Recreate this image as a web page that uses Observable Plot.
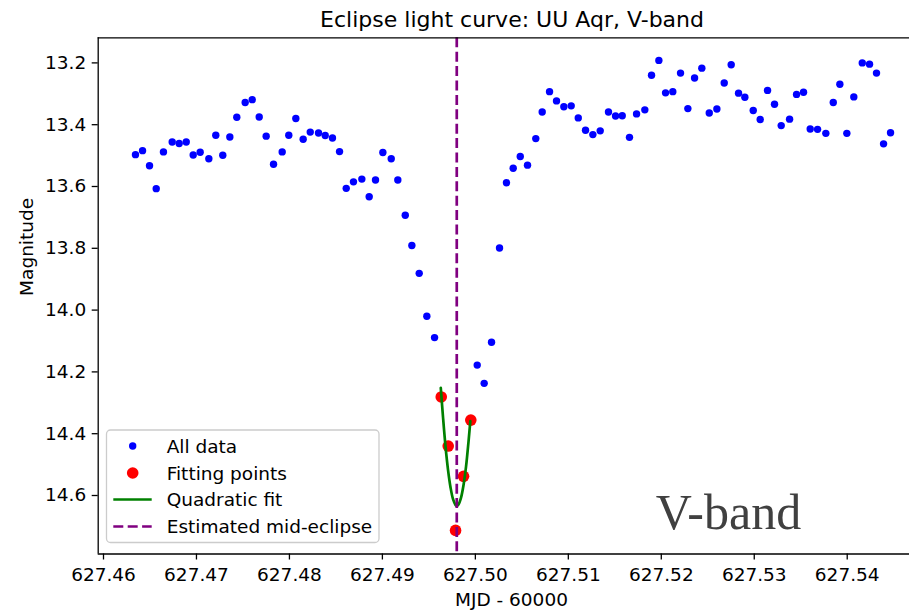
<!DOCTYPE html>
<html><head><meta charset="utf-8">
<script src="https://cdn.jsdelivr.net/npm/d3@7"></script>
<script src="https://cdn.jsdelivr.net/npm/@observablehq/plot@0.6"></script>
<style>
html,body{margin:0;padding:0;background:#fff;}
#chart{width:909px;height:610px;}
</style></head><body><div id="chart"></div>
<script>
// All data: MJD - 60000 and V magnitude
const mjd = [
  627.46344, 627.46420, 627.46495, 627.46567, 627.46645, 627.46739, 627.46814, 627.46890, 627.46965, 627.47040,
  627.47133, 627.47208, 627.47283, 627.47359, 627.47434, 627.47524, 627.47600, 627.47675, 627.47750, 627.47829,
  627.47922, 627.47993, 627.48069, 627.48148, 627.48224, 627.48313, 627.48385, 627.48463, 627.48539, 627.48611,
  627.48689, 627.48779, 627.48858, 627.48926, 627.49005, 627.49095, 627.49166, 627.49246, 627.49317, 627.49396,
  627.49478, 627.49561, 627.49633, 627.49708, 627.49787, 627.49873, 627.49951, 627.50020, 627.50095, 627.50174,
  627.50260, 627.50335, 627.50407, 627.50483, 627.50561, 627.50650, 627.50719, 627.50798, 627.50873, 627.50952,
  627.51031, 627.51107, 627.51185, 627.51264, 627.51343, 627.51432, 627.51508, 627.51580, 627.51658, 627.51734,
  627.51823, 627.51895, 627.51974, 627.52046, 627.52124, 627.52207, 627.52286, 627.52358, 627.52436, 627.52516,
  627.52598, 627.52677, 627.52752, 627.52831, 627.52899, 627.52989, 627.53064, 627.53143, 627.53218, 627.53290,
  627.53380, 627.53455, 627.53530, 627.53602, 627.53681, 627.53770, 627.53850, 627.53921, 627.53996, 627.54071,
  627.54162, 627.54240, 627.54315, 627.54391, 627.54466
];
const mag = [
  13.497, 13.484, 13.533, 13.607, 13.488, 13.456, 13.461, 13.456, 13.498, 13.489,
  13.510, 13.434, 13.499, 13.440, 13.376, 13.328, 13.319, 13.375, 13.437, 13.528,
  13.488, 13.434, 13.380, 13.447, 13.424, 13.427, 13.435, 13.443, 13.487, 13.606,
  13.585, 13.576, 13.633, 13.579, 13.490, 13.510, 13.579, 13.693, 13.791, 13.881,
  14.020, 14.089, 14.281, 14.440, 14.713, 14.538, 14.356, 14.178, 14.237, 14.104,
  13.799, 13.588, 13.541, 13.503, 13.531, 13.445, 13.359, 13.293, 13.323, 13.342,
  13.339, 13.378, 13.418, 13.432, 13.420, 13.359, 13.372, 13.371, 13.441, 13.365,
  13.352, 13.240, 13.192, 13.297, 13.293, 13.233, 13.348, 13.249, 13.217, 13.362,
  13.349, 13.265, 13.206, 13.298, 13.311, 13.354, 13.383, 13.289, 13.334, 13.403,
  13.382, 13.302, 13.295, 13.414, 13.415, 13.428, 13.328, 13.269, 13.428, 13.310,
  13.200, 13.204, 13.233, 13.462, 13.426
];
// Fitting points
const fitMjd = [627.49633, 627.49708, 627.49787, 627.49873, 627.49951];
const fitMag = [14.281, 14.440, 14.713, 14.538, 14.356];
// Quadratic fit curve
const curveMjd = [627.49628, 627.49652, 627.49679, 627.49706, 627.49733, 627.49760, 627.49787,
                  627.49801, 627.49819, 627.49846, 627.49873, 627.49900, 627.49926, 627.49946];
const curveMag = [14.252, 14.346, 14.441, 14.517, 14.574, 14.612, 14.631,
                  14.634, 14.629, 14.607, 14.566, 14.506, 14.427, 14.359];
const midEclipse = 627.4980;
const xTicks = [627.46, 627.47, 627.48, 627.49, 627.50, 627.51, 627.52, 627.53, 627.54];
const yTicks = [13.2, 13.4, 13.6, 13.8, 14.0, 14.2, 14.4, 14.6];
const xDomain = [627.45943, 627.54670];
const yDomain = [13.1188, 14.7893];
const titleText = "Eclipse light curve: UU Aqr, V-band";
const xLabel = "MJD - 60000";
const yLabel = "Magnitude";
const bandLabel = "V-band";
const legendLabels = ["All data", "Fitting points", "Quadratic fit", "Estimated mid-eclipse"];

const allData = mjd.map((x, i) => ({x, y: mag[i]}));
const fitData = fitMjd.map((x, i) => ({x, y: fitMag[i]}));
const curveData = curveMjd.map((x, i) => ({x, y: curveMag[i]}));

const plot = Plot.plot({
  width: 909,
  height: 610,
  marginTop: 37.3,
  marginLeft: 97.7,
  marginRight: 0,
  marginBottom: 56.5,
  style: {fontFamily: "'DejaVu Sans', sans-serif", fontSize: "18.5px", background: "#fff", color: "#000", overflow: "visible"},
  x: {domain: xDomain, label: null},
  y: {domain: yDomain, reverse: true, label: null},
  marks: [
    Plot.dot(allData, {x: "x", y: "y", r: 3.7, fill: "#0000ff", stroke: null}),
    Plot.dot(fitData, {x: "x", y: "y", r: 5.8, fill: "#ff0000", stroke: null}),
    Plot.line(curveData, {x: "x", y: "y", stroke: "#008000", strokeWidth: 2.7, curve: "catmull-rom"}),
    Plot.ruleX([midEclipse], {stroke: "#800080", strokeWidth: 2.7, strokeDasharray: "10,4.4"}),
    Plot.ruleX([xDomain[0]], {stroke: "#000", strokeWidth: 1.3}),
    Plot.ruleY([yDomain[0]], {stroke: "#000", strokeWidth: 1.3}),
    Plot.ruleY([yDomain[1]], {stroke: "#000", strokeWidth: 1.3}),
    Plot.axisX({ticks: xTicks, tickFormat: d => d.toFixed(2), tickSize: 6, tickPadding: 8, strokeWidth: 1.3, label: null}),
    Plot.axisY({ticks: yTicks, tickFormat: d => d.toFixed(1), tickSize: 6, tickPadding: 6, strokeWidth: 1.3, label: null}),
    Plot.text([titleText], {text: d => d, frameAnchor: "top", lineAnchor: "bottom", dx: 8.2, dy: -10.8, fontSize: 22, fill: "#000"}),
    Plot.text([xLabel], {text: d => d, frameAnchor: "bottom", lineAnchor: "bottom", dx: 7.6, dy: 51.5, fontSize: 18.5, fill: "#000"}),
    Plot.text([yLabel], {text: d => d, frameAnchor: "left", rotate: -90, lineAnchor: "middle", dx: -71.5, fontSize: 18.5, fill: "#000"}),
    Plot.text([bandLabel], {text: d => d, frameAnchor: "bottom-right", textAnchor: "end", lineAnchor: "bottom", dx: -108.3, dy: -25.2, fontSize: 50, fontFamily: "'Liberation Serif', 'Times New Roman', serif", fill: "#404040"})
  ]
});

// Legend
const svg = d3.select(plot);
const lg = svg.append("g").attr("font-family", "'DejaVu Sans', sans-serif").attr("font-size", 18.5).attr("text-anchor", "start");
lg.append("rect").attr("x", 106.5).attr("y", 430).attr("width", 272.5).attr("height", 112.5)
  .attr("rx", 4).attr("fill", "#fff").attr("fill-opacity", 0.8).attr("stroke", "#cccccc").attr("stroke-width", 1.3);
const rows = [446, 473, 499.5, 526.5];
lg.append("circle").attr("cx", 132.7).attr("cy", rows[0]).attr("r", 3.7).attr("fill", "#0000ff");
lg.append("circle").attr("cx", 132.7).attr("cy", rows[1]).attr("r", 5.8).attr("fill", "#ff0000");
lg.append("line").attr("x1", 113.3).attr("x2", 151.7).attr("y1", rows[2]).attr("y2", rows[2])
  .attr("stroke", "#008000").attr("stroke-width", 2.7);
lg.append("line").attr("x1", 113.3).attr("x2", 151.7).attr("y1", rows[3]).attr("y2", rows[3])
  .attr("stroke", "#800080").attr("stroke-width", 2.7).attr("stroke-dasharray", "10,4.4");
legendLabels.forEach((t, i) => {
  lg.append("text").attr("x", 166.7).attr("y", rows[i] + 6.5).attr("fill", "#000").attr("text-anchor", "start").text(t);
});

document.getElementById("chart").appendChild(plot);
</script>
</body></html>
